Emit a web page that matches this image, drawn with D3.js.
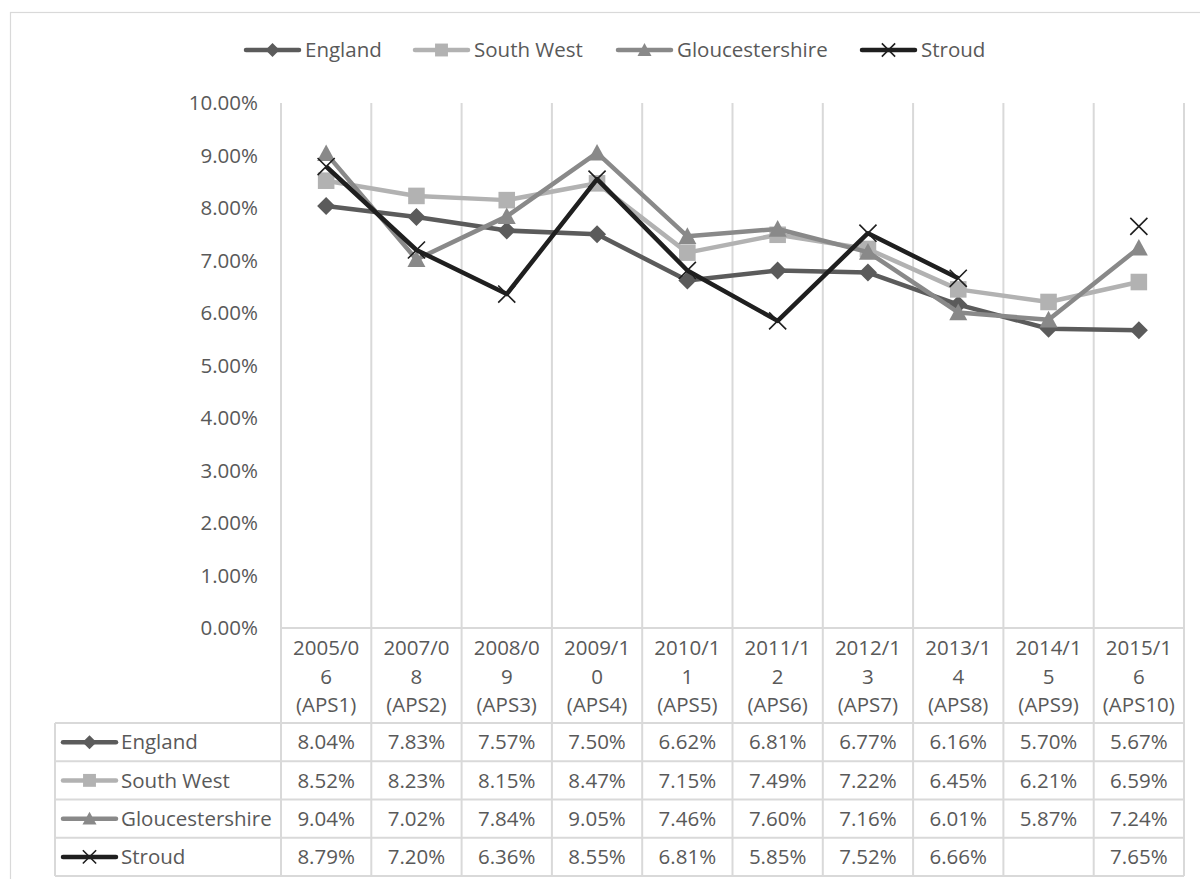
<!DOCTYPE html>
<html>
<head>
<meta charset="utf-8">
<script src="https://cdn.jsdelivr.net/npm/d3@7/dist/d3.min.js"></script>
<style>
  html, body { margin: 0; padding: 0; background: #fff; }
  svg { display: block; font-family: "Open Sans", "Liberation Sans", sans-serif; }
</style>
</head>
<body>
<svg id="chart" width="1200" height="879"></svg>
<script>
// Survey periods (Active People Survey waves)
const categories = [
  "2005/06 (APS1)", "2007/08 (APS2)", "2008/09 (APS3)", "2009/10 (APS4)",
  "2010/11 (APS5)", "2011/12 (APS6)", "2012/13 (APS7)", "2013/14 (APS8)",
  "2014/15 (APS9)", "2015/16 (APS10)"
];
const seriesNames = ["England", "South West", "Gloucestershire", "Stroud"];
const england         = [8.04, 7.83, 7.57, 7.50, 6.62, 6.81, 6.77, 6.16, 5.70, 5.67];
const southWest       = [8.52, 8.23, 8.15, 8.47, 7.15, 7.49, 7.22, 6.45, 6.21, 6.59];
const gloucestershire = [9.04, 7.02, 7.84, 9.05, 7.46, 7.60, 7.16, 6.01, 5.87, 7.24];
const stroud          = [8.79, 7.20, 6.36, 8.55, 6.81, 5.85, 7.52, 6.66, null, 7.65];
const yTicks = [0, 1, 2, 3, 4, 5, 6, 7, 8, 9, 10];

const seriesValues = [england, southWest, gloucestershire, stroud];
const seriesColors = ["#5b5b5b", "#b2b2b2", "#898989", "#1f1f1f"];
const seriesMarkers = ["diamond", "square", "triangle", "cross"];

const svg = d3.select("#chart");
const textColor = "#595959";
const gridColor = "#d9d9d9";
const fontSize = "20.5px";

const plotLeft = 281, plotRight = 1184, plotTop = 103, plotBottom = 628;
const headerBottom = 723;
const rowHeight = 38.25;
const tableLeft = 55;
const rowTops = d3.range(5).map(i => headerBottom + i * rowHeight);

const x = d3.scaleBand().domain(categories).range([plotLeft, plotRight]).padding(0);
const y = d3.scaleLinear().domain([0, 10]).range([plotBottom, plotTop]);

// outer chart frame
svg.append("rect")
  .attr("x", 10.5).attr("y", 12.5).attr("width", 1210).attr("height", 900)
  .attr("fill", "#fff").attr("stroke", gridColor).attr("stroke-width", 1.2);

// vertical category boundaries through plot and data table
const bounds = categories.map(c => x(c)).concat([plotRight]);
svg.append("g").selectAll("line").data(bounds).join("line")
  .attr("x1", d => d).attr("x2", d => d)
  .attr("y1", plotTop).attr("y2", rowTops[4])
  .attr("stroke", gridColor).attr("stroke-width", 2);

// horizontal axis line / table header top
svg.append("line")
  .attr("x1", plotLeft).attr("x2", plotRight)
  .attr("y1", y(0)).attr("y2", y(0))
  .attr("stroke", gridColor).attr("stroke-width", 2);

// data table row borders
svg.append("g").selectAll("line").data(rowTops).join("line")
  .attr("x1", tableLeft).attr("x2", plotRight)
  .attr("y1", d => d).attr("y2", d => d)
  .attr("stroke", gridColor).attr("stroke-width", 2);
svg.append("line")
  .attr("x1", tableLeft).attr("x2", tableLeft)
  .attr("y1", rowTops[0]).attr("y2", rowTops[4])
  .attr("stroke", gridColor).attr("stroke-width", 2);

// y axis labels
const yAxis = d3.axisLeft(y).tickValues(yTicks).tickSize(0).tickPadding(23)
  .tickFormat(d => d.toFixed(2) + "%");
const yG = svg.append("g").attr("transform", `translate(${plotLeft},0)`).call(yAxis);
yG.select(".domain").remove();
yG.selectAll("text")
  .attr("fill", textColor).style("font-size", fontSize)
  .style("font-family", "'Open Sans', sans-serif");

// marker shapes
function drawMarker(g, type, color, size) {
  const h = size / 2;
  if (type === "diamond") {
    g.append("path").attr("d", `M0,${-h}L${h},0L0,${h}L${-h},0Z`).attr("fill", color);
  } else if (type === "square") {
    const s = size * 0.92;
    g.append("rect").attr("x", -s / 2).attr("y", -s / 2).attr("width", s).attr("height", s).attr("fill", color);
  } else if (type === "triangle") {
    g.append("path").attr("d", `M0,${-h}L${h},${h * 0.85}L${-h},${h * 0.85}Z`).attr("fill", color);
  } else if (type === "cross") {
    const c = h * 0.95;
    g.append("path").attr("d", `M${-c},${-c}L${c},${c}M${c},${-c}L${-c},${c}`)
      .attr("stroke", color).attr("stroke-width", 1.6).attr("fill", "none");
  }
}

// series lines and markers
const cx = c => x(c) + x.bandwidth() / 2;
seriesValues.forEach((vals, si) => {
  const pts = categories.map((c, i) => ({ c, v: vals[i] }));
  const line = d3.line().defined(d => d.v !== null).x(d => cx(d.c)).y(d => y(d.v));
  const g = svg.append("g");
  g.append("path").datum(pts).attr("d", line)
    .attr("fill", "none").attr("stroke", seriesColors[si])
    .attr("stroke-width", 4.5).attr("stroke-linejoin", "round");
  pts.filter(d => d.v !== null).forEach(d => {
    const mg = g.append("g").attr("transform", `translate(${cx(d.c)},${y(d.v)})`);
    drawMarker(mg, seriesMarkers[si], seriesColors[si], 18);
  });
});

// legend key: short line with marker
function legendKey(g, si, x0, x1, yy) {
  g.append("line").attr("x1", x0).attr("x2", x1).attr("y1", yy).attr("y2", yy)
    .attr("stroke", seriesColors[si]).attr("stroke-width", 4.5).attr("stroke-linecap", "round");
  const mg = g.append("g").attr("transform", `translate(${(x0 + x1) / 2},${yy})`);
  drawMarker(mg, seriesMarkers[si], seriesColors[si], 14);
}

// top legend
const legendX = [246, 415, 618, 862];
const legend = svg.append("g");
seriesNames.forEach((name, si) => {
  legendKey(legend, si, legendX[si], legendX[si] + 53, 50);
  legend.append("text").attr("x", legendX[si] + 59).attr("y", 50).attr("dy", "0.35em")
    .attr("fill", textColor).style("font-size", fontSize).text(name);
});

// table header: category labels wrapped to cell width
const header = svg.append("g");
categories.forEach(c => {
  const [period, wave] = c.split(" ");
  const lines = [period.slice(0, 6), period.slice(6), wave];
  lines.forEach((t, li) => {
    header.append("text").attr("x", cx(c)).attr("y", 648 + li * 28.5).attr("dy", "0.35em")
      .attr("text-anchor", "middle").attr("fill", textColor).style("font-size", fontSize).text(t);
  });
});

// table rows
const table = svg.append("g");
seriesNames.forEach((name, si) => {
  const rowMid = rowTops[si] + rowHeight / 2;
  legendKey(table, si, 63, 116, rowMid);
  table.append("text").attr("x", 121).attr("y", rowMid).attr("dy", "0.35em")
    .attr("fill", textColor).style("font-size", fontSize).text(name);
  categories.forEach((c, i) => {
    const v = seriesValues[si][i];
    if (v === null) return;
    table.append("text").attr("x", cx(c)).attr("y", rowMid).attr("dy", "0.35em")
      .attr("text-anchor", "middle").attr("fill", textColor).style("font-size", fontSize)
      .text(v.toFixed(2) + "%");
  });
});
</script>
</body>
</html>
